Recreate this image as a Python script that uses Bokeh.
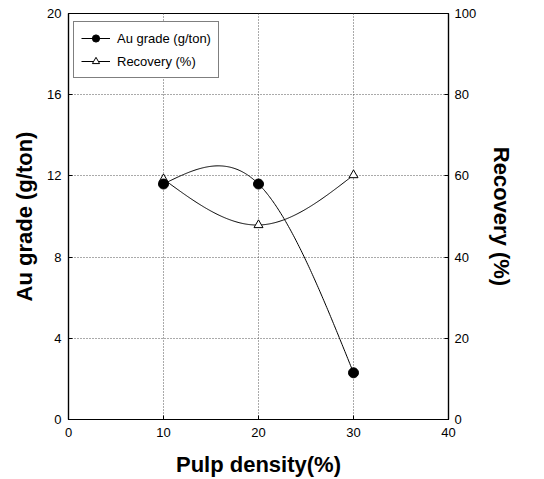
import numpy as np
from bokeh.plotting import figure
from bokeh.models import Range1d, LinearAxis, Legend, LegendItem, FixedTicker
from bokeh.embed import file_html
from bokeh.resources import INLINE

# ---- data ----
pulp_density = [10, 20, 30]
au_grade = [11.6, 11.6, 2.3]          # g/ton (left axis)
recovery = [59.2, 47.9, 60.2]         # % (right axis)
x_ticks = [0, 10, 20, 30, 40]
left_ticks = [0, 4, 8, 12, 16, 20]
right_ticks = [0, 20, 40, 60, 80, 100]


def natural_spline(xs, ys, num=200):
    xs = np.asarray(xs, float)
    ys = np.asarray(ys, float)
    n = len(xs)
    h = np.diff(xs)
    A = np.zeros((n, n))
    b = np.zeros(n)
    A[0, 0] = 1
    A[-1, -1] = 1
    for i in range(1, n - 1):
        A[i, i - 1] = h[i - 1]
        A[i, i] = 2 * (h[i - 1] + h[i])
        A[i, i + 1] = h[i]
        b[i] = 6 * ((ys[i + 1] - ys[i]) / h[i] - (ys[i] - ys[i - 1]) / h[i - 1])
    M = np.linalg.solve(A, b)
    xx = np.linspace(xs[0], xs[-1], num)
    yy = np.empty_like(xx)
    for k, x in enumerate(xx):
        i = min(np.searchsorted(xs, x, side="right") - 1, n - 2)
        i = max(i, 0)
        hi = h[i]
        t1 = xs[i + 1] - x
        t0 = x - xs[i]
        yy[k] = (M[i] * t1 ** 3 / (6 * hi) + M[i + 1] * t0 ** 3 / (6 * hi)
                 + (ys[i] / hi - M[i] * hi / 6) * t1
                 + (ys[i + 1] / hi - M[i + 1] * hi / 6) * t0)
    return xx, yy


FONT = "Liberation Sans"

p = figure(width=544, height=479, output_backend="svg", toolbar_location=None,
           x_range=Range1d(0, 40), y_range=Range1d(0, 20),
           min_border_left=68, min_border_right=96, min_border_top=13, min_border_bottom=60)
p.extra_y_ranges = {"rec": Range1d(0, 100)}

p.outline_line_color = "black"
p.outline_line_width = 1.2
p.background_fill_color = "white"
p.border_fill_color = "white"

# grid
for g in (p.xgrid, p.ygrid):
    g.grid_line_color = "#555555"
    g.grid_line_dash = "1 2"
    g.grid_line_width = 1
p.xgrid.ticker = FixedTicker(ticks=x_ticks)
p.ygrid.ticker = FixedTicker(ticks=left_ticks)

right_axis = LinearAxis(y_range_name="rec")
p.add_layout(right_axis, "right")

p.xaxis.ticker = FixedTicker(ticks=x_ticks)
p.yaxis[0].ticker = FixedTicker(ticks=left_ticks)
right_axis.ticker = FixedTicker(ticks=right_ticks)

p.xaxis.axis_label = "Pulp density(%)"
p.yaxis[0].axis_label = "Au grade (g/ton)"
right_axis.axis_label = "Recovery (%)"

for ax in [p.xaxis[0], p.yaxis[0], right_axis]:
    ax.axis_line_color = "black"
    ax.axis_line_width = 1.2
    ax.major_tick_in = 4
    ax.major_tick_out = 0
    ax.minor_tick_line_color = None
    ax.major_label_text_font = FONT
    ax.major_label_text_font_size = "13px"
    ax.major_label_text_color = "black"
    ax.axis_label_text_font = FONT
    ax.axis_label_text_font_size = "22px"
    ax.axis_label_text_font_style = "bold"
    ax.axis_label_text_color = "black"

p.xaxis.major_label_standoff = 8
p.xaxis.axis_label_standoff = 12
p.yaxis[0].major_label_standoff = 7
p.yaxis[0].axis_label_standoff = 7
right_axis.major_label_standoff = 6
right_axis.axis_label_standoff = 10

# Recovery (drawn first, behind)
rx, ry = natural_spline(pulp_density, recovery)
rec_line = p.line(rx, ry, line_color="black", line_width=1, y_range_name="rec")
rec_pts = p.scatter(pulp_density, recovery, marker="triangle", size=9,
                    fill_color="white", line_color="black", line_width=1,
                    y_range_name="rec")

# Au grade
ax_, ay_ = natural_spline(pulp_density, au_grade)
au_line = p.line(ax_, ay_, line_color="black", line_width=1)
au_pts = p.scatter(pulp_density, au_grade, marker="circle", size=10,
                   fill_color="black", line_color="black")

legend = Legend(items=[
    LegendItem(label="Au grade (g/ton)", renderers=[au_line, au_pts]),
    LegendItem(label="Recovery (%)", renderers=[rec_line, rec_pts]),
], location=(5, 341))
legend.label_text_font = FONT
legend.label_text_font_size = "13px"
legend.label_text_color = "black"
legend.border_line_color = "black"
legend.border_line_width = 1.2
legend.background_fill_alpha = 1
legend.padding = 7
legend.spacing = 5
legend.glyph_width = 29
legend.glyph_height = 18
legend.label_height = 18
legend.label_standoff = 7
legend.margin = 0
p.add_layout(legend, "center")

open("out.html", "w").write(file_html(p, INLINE))
